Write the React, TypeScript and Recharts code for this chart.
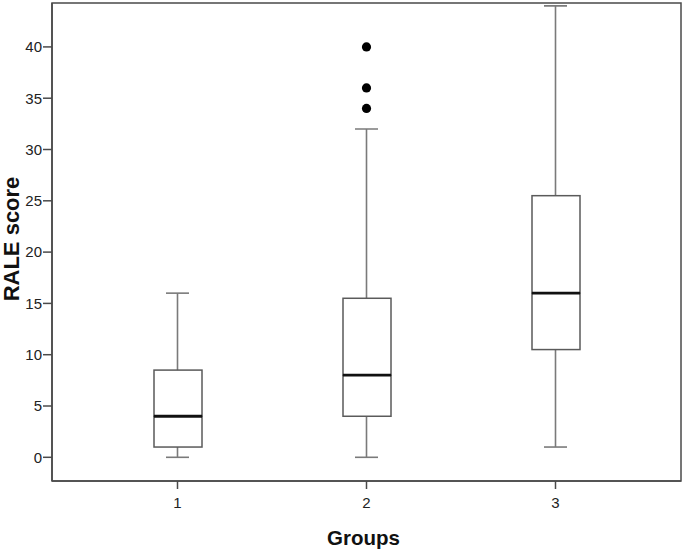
import React from "react";
import {
  ComposedChart,
  Bar,
  Scatter,
  XAxis,
  YAxis,
  Label,
  ReferenceArea,
} from "recharts";

const groups = ["1", "2", "3"];
const mins = [0, 0, 1];
const q1s = [1, 4, 10.5];
const medians = [4, 8, 16];
const q3s = [8.5, 15.5, 25.5];
const maxs = [16, 32, 44];

const outlierGroups = [2, 2, 2];
const outlierValues = [34, 36, 40];

const yTicks = [0, 5, 10, 15, 20, 25, 30, 35, 40];
const xTicks = [1, 2, 3];
const yDomain = [-2.31, 44.28];
const xDomain = [1 / 3, 11 / 3];

const data = groups.map((g, i) => ({
  group: g,
  min: mins[i],
  q1: q1s[i],
  median: medians[i],
  q3: q3s[i],
  max: maxs[i],
}));

const outliers = outlierGroups.map((g, i) => ({ group: g, value: outlierValues[i] }));

const FONT = "'Liberation Sans', Arial, Helvetica, sans-serif";
const BOX_STROKE = "#5a5a5a";
const WHISKER_STROKE = "#7a7a7a";
const FRAME = "#4a4a4a";

const norm = (p: any) => {
  const top = Math.min(p.y, p.y + p.height);
  const bot = Math.max(p.y, p.y + p.height);
  return { x: p.x, w: p.width, top, bot };
};

const WhiskerShape = (p: any) => {
  const { x, w, top, bot } = norm(p);
  const cx = x + w / 2;
  return (
    <g>
      <line x1={cx} x2={cx} y1={top} y2={bot} stroke={WHISKER_STROKE} strokeWidth={1.6} />
      <line x1={x} x2={x + w} y1={top} y2={top} stroke={WHISKER_STROKE} strokeWidth={1.6} />
      <line x1={x} x2={x + w} y1={bot} y2={bot} stroke={WHISKER_STROKE} strokeWidth={1.6} />
    </g>
  );
};

const UpperBoxShape = (p: any) => {
  const { x, w, top, bot } = norm(p);
  return <rect x={x} y={top} width={w} height={bot - top} fill="#fff" stroke={BOX_STROKE} strokeWidth={1.5} />;
};

const LowerBoxShape = (p: any) => {
  const { x, w, top, bot } = norm(p);
  return (
    <g>
      <rect x={x} y={top} width={w} height={bot - top} fill="#fff" stroke={BOX_STROKE} strokeWidth={1.5} />
      <line x1={x} x2={x + w} y1={top} y2={top} stroke="#111" strokeWidth={2.8} />
    </g>
  );
};

const OutlierShape = (p: any) => <circle cx={p.cx} cy={p.cy} r={4.6} fill="#000" />;

const FrameShape = (p: any) => (
  <rect x={p.x} y={p.y} width={p.width} height={p.height} fill="none" stroke={FRAME} strokeWidth={1.5} />
);

const YTitle = (props: any) => {
  const vb = props.viewBox;
  const cy = vb.y + vb.height / 2 - 3;
  const x = 18.5;
  return (
    <text
      x={x}
      y={cy}
      transform={`rotate(-90, ${x}, ${cy})`}
      textAnchor="middle"
      fontSize={22}
      fontWeight="bold"
      fill="#111"
      fontFamily={FONT}
    >
      RALE score
    </text>
  );
};

const XTitle = (props: any) => {
  const vb = props.viewBox;
  const cx = vb.x + vb.width / 2 - 3;
  return (
    <text x={cx} y={545} textAnchor="middle" fontSize={20.5} fontWeight="bold" fill="#111" fontFamily={FONT}>
      Groups
    </text>
  );
};

const PAD = { left: 31, right: 31 };

export default function App() {
  return (
    <div style={{ position: "absolute", left: 0, top: 0, background: "#fff" }}>
      <ComposedChart
        width={685}
        height={552}
        data={data}
        margin={{ top: 3, right: 4, bottom: 0, left: 0 }}
        style={{ fontFamily: FONT }}
      >
        <XAxis
          xAxisId="main"
          dataKey="group"
          type="category"
          padding={PAD}
          height={71}
          stroke={FRAME}
          strokeWidth={1.5}
          tickSize={8}
          tickMargin={8}
          tick={{ fontSize: 15, fill: "#222", fontFamily: FONT }}
          tickLine={{ stroke: FRAME, strokeWidth: 1.5 }}
          axisLine={{ stroke: FRAME, strokeWidth: 1.5 }}
        >
          <Label content={<XTitle />} />
        </XAxis>
        <XAxis xAxisId="w" dataKey="group" type="category" padding={PAD} height={0} hide />
        <XAxis xAxisId="bu" dataKey="group" type="category" padding={PAD} height={0} hide />
        <XAxis xAxisId="bl" dataKey="group" type="category" padding={PAD} height={0} hide />
        <XAxis
          xAxisId="num"
          dataKey="group"
          type="number"
          domain={xDomain}
          ticks={xTicks}
          allowDataOverflow
          height={0}
          hide
        />
        <YAxis
          yAxisId="left"
          type="number"
          domain={yDomain}
          allowDataOverflow
          ticks={yTicks}
          width={52}
          tickSize={9}
          tickMargin={1}
          interval={0}
          tick={{ fontSize: 15, fill: "#222", fontFamily: FONT }}
          tickLine={{ stroke: FRAME, strokeWidth: 1.5 }}
          axisLine={{ stroke: FRAME, strokeWidth: 1.5 }}
        >
          <Label content={<YTitle />} />
        </YAxis>
        <ReferenceArea
          xAxisId="num"
          yAxisId="left"
          x1={xDomain[0]}
          x2={xDomain[1]}
          y1={yDomain[0]}
          y2={yDomain[1]}
          fill="none"
          fillOpacity={0}
          stroke={FRAME}
          strokeWidth={1.5}
          ifOverflow="visible"
          shape={<FrameShape />}
        />
        <Bar
          xAxisId="w"
          yAxisId="left"
          dataKey={(d: any) => [d.min, d.max]}
          barSize={23}
          shape={<WhiskerShape />}
          isAnimationActive={false}
        />
        <Bar
          xAxisId="bu"
          yAxisId="left"
          dataKey={(d: any) => [d.median, d.q3]}
          barSize={48}
          shape={<UpperBoxShape />}
          isAnimationActive={false}
        />
        <Bar
          xAxisId="bl"
          yAxisId="left"
          dataKey={(d: any) => [d.q1, d.median]}
          barSize={48}
          shape={<LowerBoxShape />}
          isAnimationActive={false}
        />
        <Scatter
          xAxisId="num"
          yAxisId="left"
          data={outliers}
          dataKey="value"
          shape={<OutlierShape />}
          isAnimationActive={false}
        />
      </ComposedChart>
    </div>
  );
}
